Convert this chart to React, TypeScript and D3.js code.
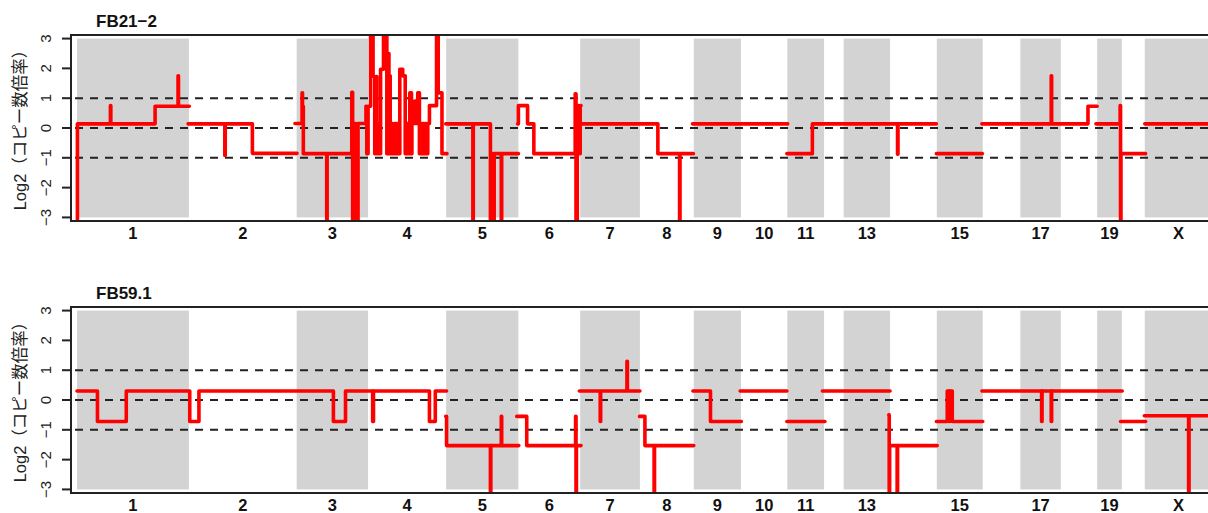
import React from "react";
import * as d3 from "d3";

type Step = [number, number]; // [genome position (Mb, cumulative), log2 ratio]

// rat chromosomes (rn4 lengths, Mb)
const chromNames = ["1", "2", "3", "4", "5", "6", "7", "8", "9", "10", "11", "12", "13", "14", "15", "16", "17", "18", "19", "20", "X"];
const chromLengthsMb = [268, 258, 171, 187, 173, 148, 143, 129, 113, 111, 88, 47, 111, 112, 110, 90, 97, 87, 59, 55, 161];
// R drops the labels that would overlap
const xTickLabels = ["1", "2", "3", "4", "5", "6", "7", "8", "9", "10", "11", "13", "15", "17", "19", "X"];
const yTicks = [-3, -2, -1, 0, 1, 2, 3];
const guideLevels = [-1, 0, 1];
const sampleNames = ["FB21−2", "FB59.1"];

// segmented copy number, drawn as step lines (each run: breakpoints + end)
const fb21Segments: Step[][] = [
  [[0, -3.5], [1, 0.14], [80, 0.75], [81, 0.14], [187, 0.73], [242, 1.75], [243, 0.73], [269, 0.73]],
  [[266, 0.14], [354, -0.92], [355, 0.14], [420, -0.85], [527, -0.85]],
  [[522, 0.15], [539, 1.18], [540, 0.73], [542, -0.86], [598, -3.5], [599, -0.86], [658, 1.2], [660, -3.5], [664, 0.15],
   [668, -3.5], [673, 0.15], [692, 0.73], [694, -0.86], [697, 0.73], [703, 3.5], [709, 1.73], [713, -0.86], [716, 1.73],
   [718, -0.86], [723, 0.15], [725, -0.86], [727, 1.97], [734, 3.5], [742, -0.86], [743, 2.5], [747, -0.86], [748, 1.75],
   [750, -0.86], [754, 0.15], [756, -0.86], [761, 0.15], [765, -0.86], [768, 0.15], [771, -0.86], [773, 1.97], [780, 1.75],
   [786, -0.86], [790, 0.15], [792, -0.86], [797, 1.18], [801, -0.86], [802, 0.15], [809, 0.9], [812, 0.15], [816, 1.18],
   [820, -0.86], [822, 0.15], [825, -0.86], [828, 0.15], [831, -0.86], [834, 0.15], [837, -0.86], [840, 0.15], [844, 0.75],
   [861, 3.5], [865, 1.18], [874, -0.86], [886, -0.86]],
  [[883, 0.14], [948, -3.5], [949, 0.14], [990, -3.5], [993, -0.86], [996, -3.5], [999, -0.86], [1016, -3.5], [1017, -0.86], [1057, -0.86]],
  [[1055, 0.14], [1057, 0.75], [1079, 0.14], [1094, -0.86], [1193, 1.15], [1195, -3.5], [1198, 0.75], [1202, -0.86], [1205, 0.75], [1207, 0.75]],
  [[1205, 0.14], [1391, -0.86], [1443, -3.5], [1444, -0.86], [1476, -0.86]],
  [[1474, 0.14], [1702, 0.14]],
  [[1700, -0.86], [1761, 0.14], [1965, -0.88], [1966, 0.14], [2058, 0.14]],
  [[2058, -0.86], [2168, -0.86]],
  [[2167, 0.14], [2333, 1.75], [2334, 0.14], [2421, 0.73], [2443, 0.73]],
  [[2440, 0.14], [2498, 0.75], [2499, -3.5], [2500, -0.86], [2559, -0.86]],
  [[2557, 0.14], [2718, 0.14]],
];

const fb59Segments: Step[][] = [
  [[0, 0.3], [49, -0.72], [118, 0.3], [270, -0.72], [292, 0.3], [614, -0.72], [643, 0.3], [708, -0.72], [710, 0.3], [844, -0.72], [858, 0.3], [885, 0.3]],
  [[883, -0.55], [885, -1.53], [990, -3.5], [991, -1.53], [1016, -0.55], [1017, -1.53], [1058, -1.53]],
  [[1053, -0.55], [1077, -1.53], [1194, -0.55], [1195, -3.5], [1196, -1.53], [1207, -1.53]],
  [[1203, 0.3], [1253, -0.72], [1254, 0.3], [1317, 1.3], [1318, 0.3], [1348, 0.3]],
  [[1347, -0.55], [1360, -1.53], [1382, -3.5], [1383, -1.53], [1477, -1.53]],
  [[1475, 0.3], [1517, -0.72], [1591, -0.72]],
  [[1588, 0.3], [1700, 0.3]],
  [[1700, -0.72], [1791, -0.72]],
  [[1785, 0.3], [1947, 0.3]],
  [[1944, -0.5], [1945, -3.5], [1946, -1.53], [1964, -3.5], [1965, -1.53], [2060, -1.53]],
  [[2058, -0.72], [2084, 0.3], [2089, -0.72], [2090, 0.3], [2096, -0.72], [2169, -0.72]],
  [[2167, 0.3], [2310, -0.72], [2311, 0.3], [2333, -0.72], [2334, 0.3], [2503, 0.3]],
  [[2499, -0.72], [2559, -0.72]],
  [[2556, -0.53], [2662, -3.5], [2663, -0.53], [2718, -0.53]],
];

const W = 1208;
const H = 513;
const BOX_LEFT = 71;
const BOX_RIGHT = 1218;
const BOX_H = 186;
const PANEL_TOPS = [35, 307];
const FONT = "'Liberation Sans', Arial, 'Noto Sans CJK JP', sans-serif";

const genomeLength = d3.sum(chromLengthsMb);
const chromStarts = chromLengthsMb.map((_, i) => d3.sum(chromLengthsMb.slice(0, i)));

const x = d3.scaleLinear().domain([0, genomeLength]).range([77, 1212]);

function Panel({ top, name, segments }: { top: number; name: string; segments: Step[][] }) {
  const y = d3.scaleLinear().domain([-3.12, 3.12]).range([top + BOX_H, top]);
  const line = d3
    .line<Step>()
    .x((d) => x(d[0]))
    .y((d) => y(d[1]))
    .curve(d3.curveStepAfter);
  const clipId = `plot-clip-${top}`;
  const midY = top + BOX_H / 2;

  return (
    <g>
      <defs>
        <clipPath id={clipId}>
          <rect x={BOX_LEFT} y={top} width={BOX_RIGHT - BOX_LEFT} height={BOX_H} />
        </clipPath>
      </defs>

      {/* grey bands on odd chromosomes */}
      {chromNames.map((c, i) =>
        i % 2 === 0 ? (
          <rect
            key={c}
            x={x(chromStarts[i])}
            y={y(3)}
            width={x(chromStarts[i] + chromLengthsMb[i]) - x(chromStarts[i])}
            height={y(-3) - y(3)}
            fill="#d3d3d3"
          />
        ) : null
      )}

      {guideLevels.map((v) => (
        <line
          key={v}
          x1={BOX_LEFT + 4}
          x2={BOX_RIGHT}
          y1={y(v)}
          y2={y(v)}
          stroke="#222"
          strokeWidth={2}
          strokeDasharray="8 7"
        />
      ))}

      <g clipPath={`url(#${clipId})`}>
        {segments.map((s, i) => (
          <path
            key={i}
            d={line(s) ?? ""}
            fill="none"
            stroke="#ff0000"
            strokeWidth={3.6}
            strokeLinejoin="round"
            strokeLinecap="round"
          />
        ))}
      </g>

      <rect x={BOX_LEFT} y={top} width={BOX_RIGHT - BOX_LEFT} height={BOX_H} fill="none" stroke="#222" strokeWidth={2} />

      {/* y axis */}
      {yTicks.map((t) => (
        <g key={t}>
          <line x1={62} x2={BOX_LEFT} y1={y(t)} y2={y(t)} stroke="#222" strokeWidth={2} />
          <text
            transform={`translate(51,${y(t)}) rotate(-90)`}
            textAnchor="middle"
            fontSize={15}
            fontFamily={FONT}
            fill="#222"
          >
            {t < 0 ? `−${-t}` : `${t}`}
          </text>
        </g>
      ))}
      <text transform={`translate(26,${midY - 2}) rotate(-90)`} textAnchor="middle" fontSize={16.5} fontFamily={FONT} fill="#222">
        Log2（コピー数倍率）
      </text>

      {/* chromosome labels */}
      {xTickLabels.map((lab) => {
        const i = chromNames.indexOf(lab);
        return (
          <text
            key={lab}
            x={x(chromStarts[i] + chromLengthsMb[i] / 2)}
            y={top + BOX_H + 18}
            textAnchor="middle"
            fontSize={16.5}
            fontWeight="bold"
            fontFamily={FONT}
            fill="#111"
          >
            {lab}
          </text>
        );
      })}

      <text x={96} y={top - 8.5} fontSize={17} fontWeight="bold" fontFamily={FONT} fill="#111">
        {name}
      </text>
    </g>
  );
}

export default function App() {
  const panels = [fb21Segments, fb59Segments];
  return (
    <svg
      width={W}
      height={H}
      viewBox={`0 0 ${W} ${H}`}
      style={{ position: "absolute", left: 0, top: 0, background: "#fff" }}
    >
      {panels.map((segs, k) => (
        <Panel key={k} top={PANEL_TOPS[k]} name={sampleNames[k]} segments={segs} />
      ))}
    </svg>
  );
}
